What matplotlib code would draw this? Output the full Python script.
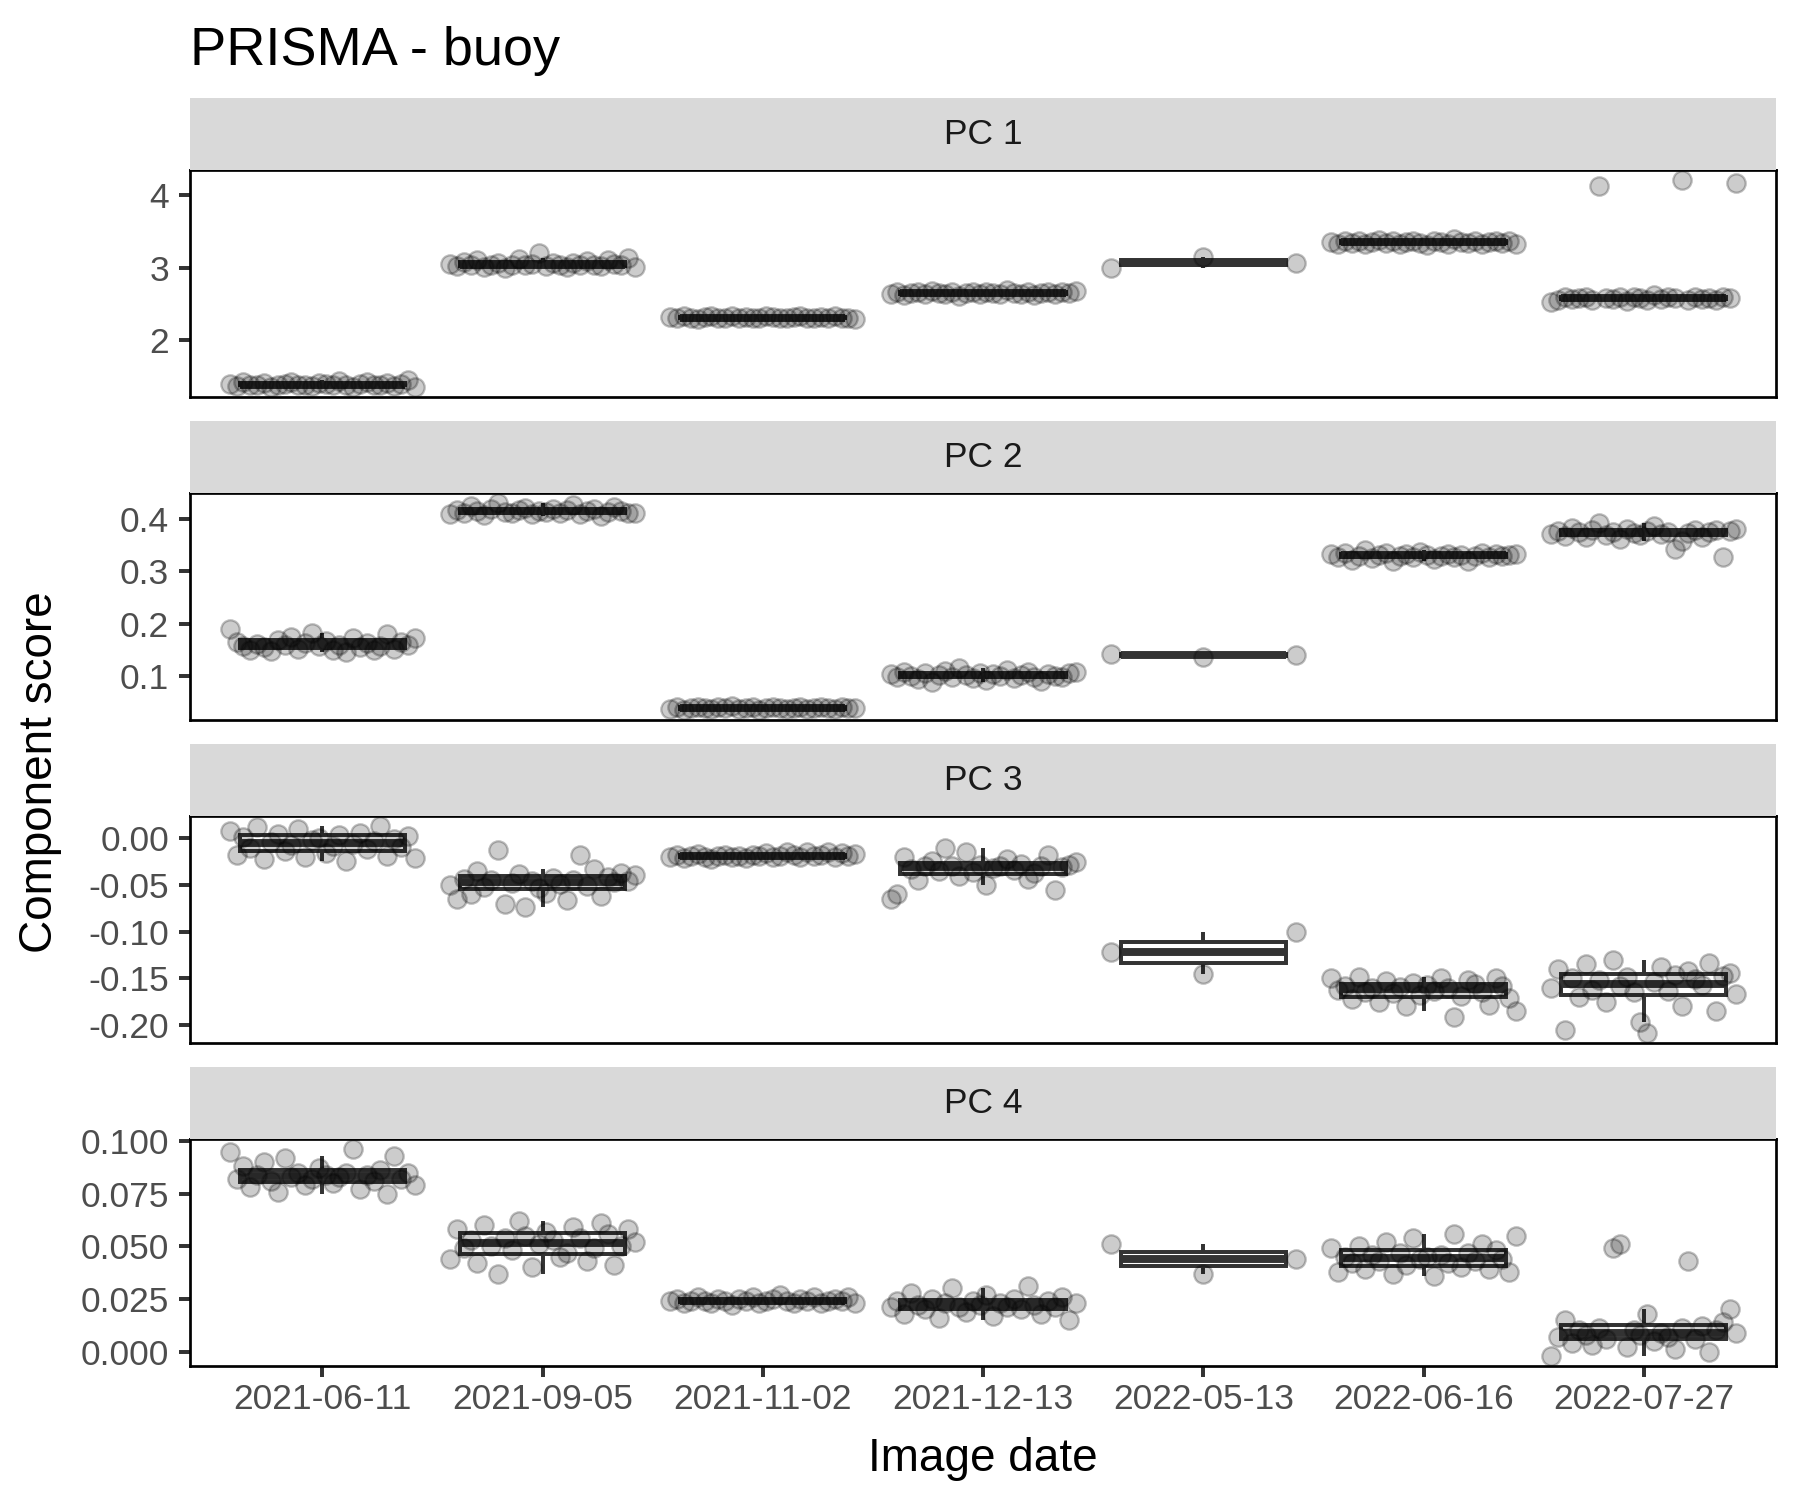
import numpy as np
import matplotlib.pyplot as plt
from matplotlib.ticker import FormatStrFormatter

plt.rcParams['font.family'] = ['Liberation Sans', 'DejaVu Sans']
plt.rcParams['axes.unicode_minus'] = False

# Image dates (x categories) and facet titles
dates = ['2021-06-11', '2021-09-05', '2021-11-02', '2021-12-13',
         '2022-05-13', '2022-06-16', '2022-07-27']
panels = ['PC 1', 'PC 2', 'PC 3', 'PC 4']

# Component scores per date (points listed left to right)
pc1 = [
    [1.40, 1.37, 1.42, 1.39, 1.38, 1.41, 1.36, 1.39, 1.40, 1.43, 1.38, 1.39, 1.37, 1.41,
     1.40, 1.38, 1.44, 1.39, 1.36, 1.40, 1.42, 1.38, 1.39, 1.41, 1.37, 1.40, 1.45, 1.36],
    [3.05, 3.02, 3.08, 3.03, 3.10, 3.01, 3.04, 3.06, 3.00, 3.04, 3.12, 3.03, 3.05, 3.20,
     3.02, 3.07, 3.04, 3.01, 3.06, 3.03, 3.09, 3.04, 3.02, 3.11, 3.05, 3.03, 3.13, 3.01],
    [2.32, 2.30, 2.33, 2.31, 2.29, 2.32, 2.34, 2.31, 2.30, 2.33, 2.31, 2.32, 2.30, 2.31,
     2.33, 2.32, 2.30, 2.31, 2.32, 2.34, 2.31, 2.30, 2.32, 2.31, 2.33, 2.30, 2.31, 2.29],
    [2.64, 2.67, 2.62, 2.65, 2.66, 2.63, 2.68, 2.65, 2.64, 2.66, 2.61, 2.65, 2.67, 2.64,
     2.66, 2.65, 2.63, 2.69, 2.65, 2.64, 2.66, 2.62, 2.65, 2.67, 2.64, 2.66, 2.65, 2.68],
    [3.00, 3.15, 3.07],
    [3.35, 3.33, 3.37, 3.34, 3.36, 3.32, 3.35, 3.38, 3.34, 3.36, 3.33, 3.35, 3.37, 3.34,
     3.31, 3.36, 3.35, 3.33, 3.39, 3.35, 3.34, 3.36, 3.32, 3.35, 3.37, 3.34, 3.36, 3.33],
    [2.52, 2.55, 2.60, 2.57, 2.58, 2.59, 2.56, 4.13, 2.58, 2.57, 2.60, 2.54, 2.59, 2.58,
     2.56, 2.62, 2.57, 2.59, 2.58, 4.20, 2.55, 2.60, 2.57, 2.58, 2.56, 2.59, 2.58, 4.17],
]
pc2 = [
    [0.190, 0.165, 0.158, 0.150, 0.162, 0.155, 0.148, 0.170, 0.160, 0.175, 0.152, 0.163, 0.182, 0.158,
     0.168, 0.150, 0.160, 0.147, 0.172, 0.156, 0.163, 0.150, 0.158, 0.180, 0.152, 0.165, 0.160, 0.172],
    [0.410, 0.418, 0.412, 0.425, 0.415, 0.408, 0.420, 0.430, 0.414, 0.411, 0.418, 0.422, 0.409, 0.416,
     0.413, 0.420, 0.412, 0.417, 0.426, 0.410, 0.415, 0.419, 0.406, 0.414, 0.423, 0.416, 0.411, 0.412],
    [0.038, 0.041, 0.036, 0.040, 0.042, 0.039, 0.037, 0.041, 0.040, 0.043, 0.038, 0.039, 0.041, 0.036,
     0.040, 0.042, 0.039, 0.038, 0.040, 0.041, 0.037, 0.039, 0.042, 0.040, 0.038, 0.041, 0.039, 0.040],
    [0.104, 0.098, 0.108, 0.101, 0.095, 0.106, 0.088, 0.103, 0.110, 0.099, 0.115, 0.102, 0.097, 0.107,
     0.092, 0.104, 0.100, 0.112, 0.096, 0.103, 0.108, 0.099, 0.090, 0.105, 0.101, 0.098, 0.106, 0.108],
    [0.143, 0.137, 0.140],
    [0.333, 0.328, 0.336, 0.322, 0.330, 0.340, 0.326, 0.331, 0.335, 0.320, 0.329, 0.333, 0.327, 0.338,
     0.331, 0.324, 0.330, 0.334, 0.328, 0.332, 0.319, 0.330, 0.336, 0.327, 0.333, 0.329, 0.331, 0.334],
    [0.372, 0.378, 0.368, 0.383, 0.375, 0.365, 0.380, 0.392, 0.370, 0.376, 0.362, 0.381, 0.374, 0.369,
     0.377, 0.386, 0.371, 0.375, 0.342, 0.358, 0.373, 0.380, 0.366, 0.376, 0.379, 0.328, 0.378, 0.381],
]
pc3 = [
    [0.008, -0.018, 0.002, -0.010, 0.012, -0.022, -0.004, 0.005, -0.013, -0.007, 0.010, -0.020, -0.002, 0.001,
     -0.016, -0.008, 0.004, -0.024, -0.006, 0.006, -0.011, -0.003, 0.013, -0.019, -0.001, -0.009, 0.003, -0.021],
    [-0.050, -0.065, -0.043, -0.060, -0.035, -0.052, -0.045, -0.012, -0.070, -0.048, -0.038, -0.073, -0.046, -0.053,
     -0.058, -0.042, -0.049, -0.066, -0.044, -0.018, -0.051, -0.033, -0.062, -0.041, -0.047, -0.037, -0.046, -0.039],
    [-0.020, -0.018, -0.021, -0.019, -0.017, -0.020, -0.022, -0.019, -0.018, -0.020, -0.019, -0.021, -0.018, -0.019,
     -0.016, -0.020, -0.019, -0.015, -0.018, -0.020, -0.014, -0.019, -0.018, -0.015, -0.020, -0.016, -0.019, -0.017],
    [-0.065, -0.060, -0.020, -0.033, -0.045, -0.030, -0.024, -0.035, -0.010, -0.029, -0.040, -0.015, -0.036, -0.028,
     -0.050, -0.032, -0.030, -0.022, -0.034, -0.027, -0.043, -0.037, -0.029, -0.018, -0.055, -0.031, -0.028, -0.025],
    [-0.122, -0.145, -0.100],
    [-0.150, -0.162, -0.158, -0.172, -0.148, -0.164, -0.160, -0.175, -0.153, -0.166, -0.159, -0.180, -0.155, -0.168,
     -0.157, -0.163, -0.150, -0.160, -0.191, -0.169, -0.152, -0.156, -0.165, -0.178, -0.149, -0.158, -0.171, -0.185],
    [-0.160, -0.140, -0.205, -0.150, -0.170, -0.135, -0.162, -0.152, -0.175, -0.130, -0.158, -0.148, -0.165, -0.197,
     -0.208, -0.154, -0.138, -0.163, -0.146, -0.180, -0.142, -0.151, -0.157, -0.133, -0.185, -0.147, -0.144, -0.167],
]
pc4 = [
    [0.095, 0.082, 0.088, 0.078, 0.084, 0.090, 0.081, 0.076, 0.092, 0.083, 0.085, 0.079, 0.082, 0.087,
     0.084, 0.080, 0.083, 0.085, 0.096, 0.077, 0.084, 0.081, 0.086, 0.075, 0.093, 0.082, 0.085, 0.079],
    [0.044, 0.058, 0.049, 0.053, 0.042, 0.060, 0.050, 0.037, 0.054, 0.048, 0.062, 0.055, 0.040, 0.051,
     0.057, 0.053, 0.045, 0.047, 0.059, 0.054, 0.043, 0.049, 0.061, 0.056, 0.041, 0.050, 0.058, 0.052],
    [0.024, 0.025, 0.023, 0.024, 0.026, 0.024, 0.023, 0.025, 0.024, 0.022, 0.025, 0.024, 0.026, 0.023,
     0.024, 0.025, 0.027, 0.024, 0.023, 0.025, 0.024, 0.026, 0.023, 0.024, 0.025, 0.024, 0.026, 0.023],
    [0.021, 0.024, 0.018, 0.028, 0.022, 0.020, 0.025, 0.016, 0.023, 0.030, 0.021, 0.019, 0.024, 0.022,
     0.027, 0.017, 0.023, 0.021, 0.025, 0.020, 0.031, 0.022, 0.018, 0.024, 0.021, 0.026, 0.015, 0.023],
    [0.051, 0.037, 0.044],
    [0.049, 0.038, 0.045, 0.042, 0.050, 0.039, 0.046, 0.043, 0.052, 0.037, 0.047, 0.041, 0.054, 0.044,
     0.045, 0.036, 0.046, 0.042, 0.056, 0.040, 0.047, 0.043, 0.051, 0.039, 0.048, 0.044, 0.038, 0.055],
    [-0.002, 0.007, 0.015, 0.004, 0.010, 0.008, 0.003, 0.011, 0.006, 0.049, 0.051, 0.002, 0.010, 0.008,
     0.018, 0.005, 0.009, 0.007, 0.001, 0.011, 0.043, 0.006, 0.012, 0.000, 0.010, 0.014, 0.020, 0.009],
]

# y tick values and label formats for each facet
yticks = [
    [2, 3, 4],
    [0.1, 0.2, 0.3, 0.4],
    [-0.20, -0.15, -0.10, -0.05, 0.00],
    [0.000, 0.025, 0.050, 0.075, 0.100],
]
yfmt = ['%d', '%.1f', '%.2f', '%.3f']

all_scores = [pc1, pc2, pc3, pc4]

fig = plt.figure(figsize=(12, 10), dpi=150)

left, width = 0.1056, 0.8811
panel_bottoms = [0.7353, 0.5200, 0.3047, 0.0893]
panel_h = 0.1513
strip_h = 0.048
dark = '#333333'
tick_kw = dict(length=5.5, width=1.9, color=dark, labelcolor='#4D4D4D', labelsize=17)

xpos = np.arange(1, len(dates) + 1)

for i, (name, scores) in enumerate(zip(panels, all_scores)):
    b = panel_bottoms[i]
    ax = fig.add_axes([left, b, width, panel_h])
    strip = fig.add_axes([left, b + panel_h, width, strip_h])
    strip.set_facecolor('#D9D9D9')
    strip.set_xticks([])
    strip.set_yticks([])
    for s in strip.spines.values():
        s.set_visible(False)
    strip.text(0.5, 0.5, name, ha='center', va='center', fontsize=17, color='#1A1A1A',
               transform=strip.transAxes)

    ax.boxplot(scores, positions=xpos, widths=0.75, patch_artist=True,
               showcaps=False, showfliers=False,
               boxprops=dict(facecolor='white', edgecolor=dark, linewidth=1.9),
               medianprops=dict(color=dark, linewidth=3.8, solid_capstyle='butt'),
               whiskerprops=dict(color=dark, linewidth=1.9, solid_capstyle='butt'),
               zorder=2)

    # jittered points, spread evenly across the category
    for x, vals in zip(xpos, scores):
        offs = np.linspace(-0.42, 0.42, len(vals))
        ax.scatter(x + offs, vals, s=78, facecolor=(0, 0, 0, 0.2),
                   edgecolor=(0, 0, 0, 0.25), linewidth=1.1, zorder=3)

    flat = np.concatenate([np.asarray(v) for v in scores])
    lo, hi = flat.min(), flat.max()
    pad = 0.05 * (hi - lo)
    ax.set_ylim(lo - pad, hi + pad)
    ax.set_xlim(0.4, len(dates) + 0.6)

    ax.set_yticks(yticks[i])
    ax.yaxis.set_major_formatter(FormatStrFormatter(yfmt[i]))
    ax.tick_params(axis='y', pad=4.5, **tick_kw)
    if i == len(panels) - 1:
        ax.set_xticks(xpos)
        ax.set_xticklabels(dates)
        ax.tick_params(axis='x', pad=2.5, **tick_kw)
    else:
        ax.set_xticks([])
    for s in ax.spines.values():
        s.set_color('black')
        s.set_linewidth(1.3)

fig.text(0.1056, 0.957, 'PRISMA - buoy', fontsize=26, ha='left', va='baseline', color='black')
fig.text(left + width / 2, 0.0195, 'Image date', fontsize=22, ha='center', va='baseline')
fig.text(0.0224, 0.485, 'Component score', fontsize=22, ha='center', va='center', rotation=90)

fig.savefig('out.png', dpi=150)
